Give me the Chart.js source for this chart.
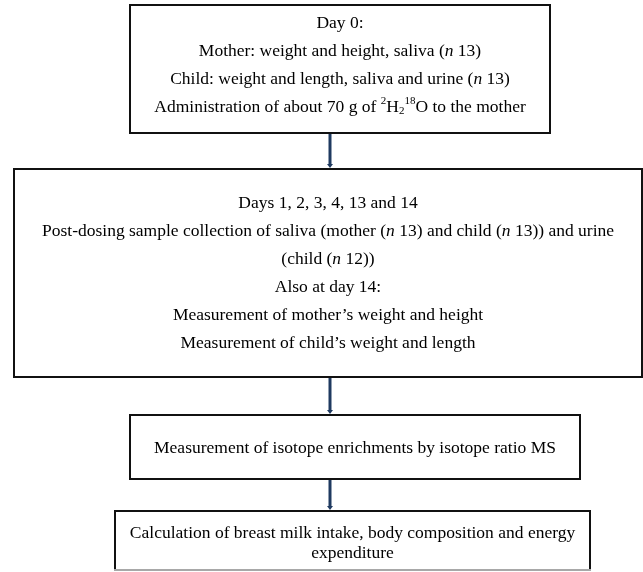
<!DOCTYPE html>
<html>
<head>
<meta charset="utf-8">
<script src="https://cdn.jsdelivr.net/npm/chart.js@4"></script>
<style>
  html, body { margin: 0; background: #fff; }
  #wrap { width: 643px; height: 572px; }
</style>
</head>
<body>
<div id="wrap"><canvas id="flow"></canvas></div>
<script>
// Flow steps: text lines (markup: *italic*, ^{sup}, _{sub})
const stepText = [
  ['Day 0:',
   'Mother: weight and height, saliva (*n* 13)',
   'Child: weight and length, saliva and urine (*n* 13)',
   'Administration of about 70 g of ^{2}H_{2}^{18}O to the mother'],
  ['Days 1, 2, 3, 4, 13 and 14',
   'Post-dosing sample collection of saliva (mother (*n* 13) and child (*n* 13)) and urine',
   '(child (*n* 12))',
   'Also at day 14:',
   'Measurement of mother\u2019s weight and height',
   'Measurement of child\u2019s weight and length'],
  ['Measurement of isotope enrichments by isotope ratio MS'],
  ['Calculation of breast milk intake, body composition and energy',
   'expenditure']
];

// Step extents in chart units (x: 0..643, y: 0..572 top-down)
const stepLeft = [130, 14, 130, 115];
const stepRight = [550, 642, 580, 590];
const stepTop = [5, 169, 415, 511];
const stepBottom = [133, 377, 479, 570];
const firstLineY = [23, 203, 448, 533];
const lineGap = [28, 28, 0, 20];
const arrowX = 330;

const FONT = '"Liberation Serif", "Times New Roman", serif';
const FS = 17.5;

// split a line into styled pieces
function parseLine(str) {
  const parts = [];
  const re = /\*([^*]+)\*|\^\{([^}]*)\}|_\{([^}]*)\}|([^*^_]+)/g;
  let m;
  while ((m = re.exec(str)) !== null) {
    if (m[1] !== undefined) parts.push({ t: m[1], k: 'i' });
    else if (m[2] !== undefined) parts.push({ t: m[2], k: 'sup' });
    else if (m[3] !== undefined) parts.push({ t: m[3], k: 'sub' });
    else parts.push({ t: m[4], k: 'n' });
  }
  return parts;
}

function setFont(ctx, k) {
  if (k === 'i') ctx.font = 'italic ' + FS + 'px ' + FONT;
  else if (k === 'sup' || k === 'sub') ctx.font = Math.round(FS * 0.62) + 'px ' + FONT;
  else ctx.font = FS + 'px ' + FONT;
}

function drawRich(ctx, str, cx, cy) {
  const parts = parseLine(str);
  let w = 0;
  parts.forEach(p => { setFont(ctx, p.k); p.w = ctx.measureText(p.t).width; w += p.w; });
  let x = cx - w / 2;
  parts.forEach(p => {
    setFont(ctx, p.k);
    let dy = 0;
    if (p.k === 'sup') dy = -FS * 0.32;
    if (p.k === 'sub') dy = FS * 0.25;
    ctx.fillText(p.t, x, cy + dy);
    x += p.w;
  });
}

const flowPlugin = {
  id: 'flow',
  afterDraw(chart) {
    const ctx = chart.ctx;
    const xs = chart.scales.x, ys = chart.scales.y;
    ctx.save();

    // boxes
    ctx.lineWidth = 2;
    stepText.forEach((lines, i) => {
      const x0 = xs.getPixelForValue(stepLeft[i]);
      const x1 = xs.getPixelForValue(stepRight[i]);
      const y0 = ys.getPixelForValue(stepTop[i]);
      const y1 = ys.getPixelForValue(stepBottom[i]);
      ctx.strokeStyle = '#111';
      ctx.beginPath();
      ctx.moveTo(x0, y1);
      ctx.lineTo(x0, y0);
      ctx.lineTo(x1, y0);
      ctx.lineTo(x1, y1);
      ctx.stroke();
      // last box's bottom edge is cut off and looks grey
      ctx.strokeStyle = i === stepText.length - 1 ? '#a8a8a8' : '#111';
      ctx.beginPath();
      ctx.moveTo(x0 - 1, y1);
      ctx.lineTo(x1 + 1, y1);
      ctx.stroke();

      ctx.fillStyle = '#000';
      ctx.textBaseline = 'middle';
      ctx.textAlign = 'left';
      const cx = (x0 + x1) / 2;
      lines.forEach((ln, j) => {
        const cy = ys.getPixelForValue(firstLineY[i] + j * lineGap[i]);
        drawRich(ctx, ln, cx, cy);
      });
    });

    // arrows between steps
    ctx.strokeStyle = '#1f3a60';
    ctx.fillStyle = '#1f3a60';
    for (let i = 0; i < stepText.length - 1; i++) {
      const ax = xs.getPixelForValue(arrowX);
      const ya = ys.getPixelForValue(stepBottom[i]) + 1;
      const yb = ys.getPixelForValue(stepTop[i + 1]) - 1;
      ctx.lineWidth = 3;
      ctx.beginPath();
      ctx.moveTo(ax, ya);
      ctx.lineTo(ax, yb - 3);
      ctx.stroke();
      ctx.beginPath();
      ctx.moveTo(ax - 3, yb - 4);
      ctx.lineTo(ax + 3, yb - 4);
      ctx.lineTo(ax, yb);
      ctx.closePath();
      ctx.fill();
    }
    ctx.restore();
  }
};

new Chart(document.getElementById('flow'), {
  type: 'scatter',
  data: { datasets: [{ data: [] }] },
  options: {
    responsive: true,
    maintainAspectRatio: false,
    animation: false,
    layout: { padding: 0 },
    plugins: { legend: { display: false }, tooltip: { enabled: false } },
    scales: {
      x: { type: 'linear', min: 0, max: 643, display: false },
      y: { type: 'linear', min: 0, max: 572, reverse: true, display: false }
    }
  },
  plugins: [flowPlugin]
});
</script>
</body>
</html>
